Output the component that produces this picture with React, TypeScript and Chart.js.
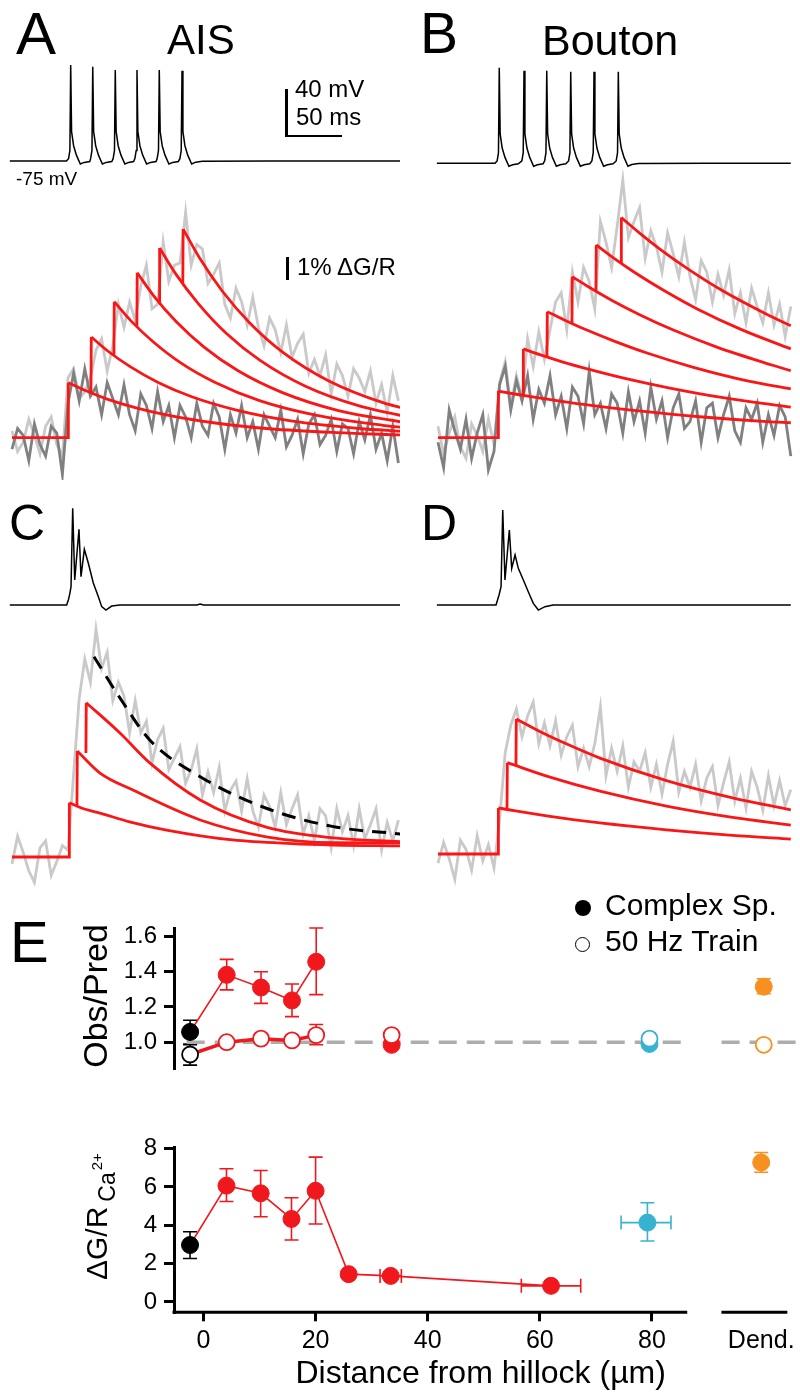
import React, { useEffect, useRef } from "react";
import { Chart, registerables } from "chart.js";

Chart.register(...registerables);

const FONT = '"Liberation Sans", Arial, Helvetica, sans-serif';
Chart.defaults.font.family = FONT;
Chart.defaults.color = "#000";

// ======================= DATA =======================
const SAMPLE_MS = 5; // sampling interval of the imaging traces (ms)

// Membrane potential traces [time ms, mV]
const VM_A = [
  [-2, -75], [48.6, -75], [50.5, -73], [51.7, -66], [52.4, 6.7], [53.2, -50], [55, -62], [57.5, -70], [61, -77.5], [64.4, -76.2], [69.4, -75.4],
  [70.2, -73], [71.4, -66], [72.1, 5.2], [72.9, -50], [74.7, -62], [77.2, -70], [80.7, -77.5], [84.1, -76.2], [89.1, -75.4],
  [90.3, -73], [91.5, -66], [92.2, 2.4], [93, -50], [94.8, -62], [97.3, -70], [100.8, -77.5], [104.2, -76.2], [108.6, -75.4],
  [109.7, -73], [110.9, -66], [111.6, 2.4], [112.4, -50], [114.2, -62], [116.7, -70], [120.2, -77.5], [123.6, -76.2], [128.6, -75.4],
  [129.6, -73], [130.8, -66], [131.5, 2.4], [132.3, -50], [134.1, -62], [136.6, -70], [140.1, -77.5], [143.5, -76.2], [148.5, -75.4],
  [149.9, -73], [151.1, -66], [151.8, 1.8], [152.6, -50], [154.4, -62], [156.9, -70], [160.4, -77.5], [164, -76], [170, -75.2], [230, -75], [347, -75],
];
const VM_B = [
  [-1, -75], [50.9, -75], [52.8, -73], [54, -66], [54.7, 6.4], [55.5, -50], [57.3, -62], [59.8, -70], [63.3, -77.5], [66.7, -76.2], [71.7, -75.4],
  [74.9, -73], [76.1, -66], [76.8, 3.8], [77.6, -50], [79.4, -62], [81.9, -70], [85.4, -77.5], [88.8, -76.2], [93.8, -75.4],
  [95.2, -73], [96.4, -66], [97.1, 3.8], [97.9, -50], [99.7, -62], [102.2, -70], [105.7, -77.5], [109.1, -76.2], [114.1, -75.4],
  [116.6, -73], [117.8, -66], [118.5, 3.0], [119.3, -50], [121.1, -62], [123.6, -70], [127.1, -77.5], [130.5, -76.2], [135.5, -75.4],
  [137.4, -73], [138.6, -66], [139.3, 3.0], [140.1, -50], [141.9, -62], [144.4, -70], [147.9, -77.5], [151.3, -76.2], [156.3, -75.4],
  [159.1, -73], [160.3, -66], [161, 3.0], [161.8, -50], [163.6, -62], [166.1, -70], [169.6, -77.5], [173, -76], [179, -75.2], [240, -75], [315, -75],
];
const VM_C = [
  [-2, -75], [48.8, -75], [50.3, -70.7], [51.5, -66], [52.7, -59.4], [54.2, 7.3], [56, -53.7], [59.8, -10.6], [61.6, -50.9], [64.6, -27.6],
  [68.1, -39.3], [72.6, -56.3], [77.1, -67.9], [80.1, -76.4], [83.9, -79.3], [89, -75.9], [96.4, -75], [165, -75], [168, -74.2], [171, -75], [347, -75],
];
const VM_D = [
  [-1, -75], [51.8, -75], [54.5, -66.5], [56.3, -59.4], [57.8, 5.9], [59.8, -53.7], [63.7, -11.2], [65.8, -43.8], [68.8, -32.4], [71.7, -43.8],
  [76.2, -53.7], [80.6, -63.7], [85.1, -73.6], [89.6, -79.3], [95.5, -76.4], [102.7, -75], [315, -75],
];

// Calcium imaging traces (%dG/R), sampled every SAMPLE_MS from t = 0
const CA_A_TRAIN = [
  0.3, -0.6, -0.2, 0.8, 0.1, -0.7, 0.5, 0.9, -0.3, -0.8,
  2.6, 3.0, 1.7, 2.0, 2.6, 3.8, 4.3, 2.9, 4.0, 5.8,
  4.8, 5.9, 5.1, 6.6, 7.5, 5.6, 5.8, 8.5, 6.8, 7.5,
  7.6, 9.8, 7.5, 8.4, 8.2, 6.7, 7.1, 7.6, 5.8, 5.2,
  6.5, 5.9, 4.9, 6.1, 4.8, 4.0, 5.2, 4.7, 3.7, 4.9,
  3.5, 4.1, 4.5, 2.8, 3.4, 2.7, 3.6, 1.9, 3.2, 2.7,
  1.8, 3.0, 2.6, 2.0, 2.9, 1.5, 2.3, 1.1, 2.7, 1.6,
];
const CA_A_SINGLE = [
  -0.5, 0.4, 0.1, -1.0, 0.6, -0.3, -0.8, 0.5, 0.2, -1.6,
  1.5, 2.8, 1.6, 3.0, 1.8, 2.2, 1.0, 2.4, 1.7, 1.0,
  2.3, 1.0, 0.3, 1.9, 1.4, 0.4, 2.0, 0.7, 1.4, 0.0,
  1.4, 0.9, 0.0, 1.5, 0.5, 0.1, 1.5, 0.9, -0.5, 1.0,
  0.2, 1.4, 0.0, 0.7, -0.5, 1.0, 0.5, 0.0, 1.2, -0.4,
  0.1, 0.8, -0.7, 0.6, 1.0, -0.3, 0.1, 0.8, -0.6, 0.6,
  0.4, -0.7, 0.7, -0.1, 1.0, -0.5, 0.2, -1.0, 0.5, -1.1,
];
const CA_B_TRAIN = [
  0.5, -0.7, 0.2, 0.9, -0.4, -0.9, 0.6, 0.1, -0.6, 0.8, -0.3,
  2.4, 3.3, 1.4, 2.7, 1.7, 4.3, 3.1, 4.6, 3.4,
  4.7, 5.9, 6.3, 4.7, 7.2, 5.9, 7.4, 6.8, 5.6, 9.4,
  8.5, 7.4, 9.2, 11.2, 8.7, 9.4, 10.0, 7.8, 9.0, 8.3,
  7.2, 8.9, 8.0, 7.0, 8.5, 7.0, 6.0, 7.7, 7.2, 5.9,
  7.1, 6.2, 7.3, 5.4, 6.3, 5.0, 6.5, 5.7, 5.0, 6.3,
  4.9, 5.8, 4.4, 5.7,
];
const CA_B_SINGLE = [
  -0.2, -1.3, 1.2, 0.3, -0.5, 0.8, -0.9, 0.2, 1.0, -1.4, -0.6,
  2.3, 3.1, 1.2, 2.5, 1.6, 2.7, 0.8, 2.1, 1.5,
  2.7, 1.0, 1.8, 0.4, 2.2, 1.8, 0.6, 2.9, 1.0, 1.5,
  0.4, 1.9, 1.5, 0.2, 2.0, 0.7, 1.6, 0.2, 2.2, 0.8,
  1.6, 0.0, 1.3, 1.9, 0.4, 0.7, 1.6, -0.2, 1.3, 1.5,
  0.0, 1.0, 1.8, 0.3, -0.2, 1.3, 0.8, 1.5, -0.2, 1.0,
  0.1, 1.4, 0.9, -0.8,
];
const CA_C_COMPLEX = [
  -0.3, 0.9, 0.2, -0.6, -1.1, 0.4, 0.7, -0.8, -0.2, 0.5,
  0.3, 3.6, 6.9, 8.6, 7.6, 9.9, 8.2, 8.9, 6.8, 7.6,
  7.0, 5.4, 6.8, 5.4, 5.9, 4.1, 5.1, 5.6, 3.8, 4.3,
  4.8, 3.2, 3.8, 4.7, 2.7, 3.7, 2.8, 3.9, 2.0, 2.9,
  3.3, 2.0, 3.4, 2.0, 1.3, 2.7, 2.2, 1.3, 2.8, 1.4,
  2.1, 2.7, 1.0, 1.8, 0.7, 2.1, 1.8, 0.4, 2.1, 1.1,
  1.8, 0.5, 2.1, 0.8, 1.4, 2.1, 0.3, 1.5, 0.7, 1.6,
];
const CA_D_COMPLEX = [
  -0.4, 0.5, -0.2, -1.1, 0.6, 0.2, -0.7, 0.8, -0.3, 0.4, -0.6,
  1.5, 4.4, 5.6, 6.3, 5.1, 6.0, 6.6, 4.8, 5.7,
  4.7, 5.8, 4.3, 5.1, 5.6, 3.8, 4.6, 3.8, 4.8, 6.4,
  3.4, 4.6, 3.6, 4.7, 2.9, 4.0, 3.6, 4.4, 2.9, 3.9,
  2.6, 3.9, 4.9, 2.7, 3.6, 2.9, 3.9, 2.3, 3.3, 3.8,
  2.1, 3.1, 4.0, 2.3, 3.3, 2.0, 3.6, 2.9, 1.9, 3.4,
  2.1, 3.2, 2.1, 2.8,
];

// Predicted (fit) curves: times (ms) and values (%dG/R); first entry = value before the step
const FIT_A_T = [
  [50, 50.3, 65, 85, 110, 140, 180, 230, 290, 347],
  [70.5, 70.8, 85.5, 105.5, 130.5, 160.5, 200.5, 250.5, 310.5, 347],
  [91, 91.3, 106, 126, 151, 181, 221, 271, 331, 347],
  [111.5, 111.8, 126.5, 146.5, 171.5, 201.5, 241.5, 291.5, 347],
  [131.5, 131.8, 146.5, 166.5, 191.5, 221.5, 261.5, 311.5, 347],
  [152.5, 152.8, 167.5, 187.5, 212.5, 242.5, 282.5, 332.5, 347],
];
const FIT_A_V = [
  [0, 2.39, 2.06, 1.68, 1.31, 0.97, 0.65, 0.39, 0.22, 0.12],
  [1.95, 4.38, 3.77, 3.09, 2.40, 1.78, 1.20, 0.72, 0.40, 0.28],
  [3.57, 5.91, 5.09, 4.17, 3.24, 2.41, 1.61, 0.98, 0.54, 0.46],
  [4.82, 7.17, 6.17, 5.05, 3.94, 2.92, 1.96, 1.18, 0.69],
  [5.84, 8.25, 7.10, 5.82, 4.53, 3.36, 2.25, 1.36, 0.97],
  [6.72, 9.07, 7.81, 6.39, 4.98, 3.69, 2.48, 1.50, 1.31],
];
const FIT_B_T = [
  [53.6, 53.9, 68.6, 88.6, 113.6, 143.6, 183.6, 233.6, 293.6, 315],
  [75.9, 76.2, 90.9, 110.9, 135.9, 165.9, 205.9, 255.9, 315],
  [97.3, 97.6, 112.3, 132.3, 157.3, 187.3, 227.3, 277.3, 315],
  [119.6, 119.9, 134.6, 154.6, 179.6, 209.6, 249.6, 299.6, 315],
  [141, 141.3, 156, 176, 201, 231, 271, 315],
  [163.4, 163.7, 178.4, 198.4, 223.4, 253.4, 293.4, 315],
];
const FIT_B_V = [
  [0, 2.03, 1.90, 1.74, 1.56, 1.36, 1.14, 0.91, 0.70, 0.65],
  [1.84, 3.86, 3.61, 3.30, 2.96, 2.59, 2.17, 1.73, 1.33],
  [3.51, 5.48, 5.13, 4.69, 4.20, 3.67, 3.07, 2.46, 2.12],
  [4.96, 7.0, 6.55, 5.99, 5.36, 4.69, 3.93, 3.14, 2.91],
  [6.36, 8.38, 7.84, 7.17, 6.42, 5.61, 4.70, 3.86],
  [7.59, 9.57, 8.96, 8.19, 7.33, 6.41, 5.37, 4.87],
];
const FIT_C_T = [
  [50.9, 51.2, 62, 78.6, 105, 138, 197, 250, 287, 347],
  [58, 58.3, 78.6, 108, 168, 227, 287, 347],
  [66, 66.3, 96.4, 123, 168, 227, 287, 347],
];
const FIT_C_V = [
  [0, 2.36, 2.13, 1.91, 1.53, 1.17, 0.74, 0.58, 0.52, 0.48],
  [2.26, 4.61, 3.65, 2.91, 1.61, 0.88, 0.62, 0.61],
  [4.52, 6.71, 5.39, 4.09, 2.48, 1.30, 0.83, 0.67],
];
const OBS_C_T = [73.2, 93.5, 123, 168, 227, 287, 347];
const OBS_C_V = [8.71, 7.13, 5.09, 3.49, 2.12, 1.32, 1.0];
const FIT_D_T = [
  [53.6, 53.9, 100, 144.6, 204, 263, 315],
  [61.6, 61.9, 100, 144.6, 204, 263, 315],
  [69.6, 69.9, 90, 115, 144.6, 204, 263, 315],
];
const FIT_D_V = [
  [0, 2.0, 1.64, 1.35, 1.05, 0.81, 0.65],
  [1.93, 3.97, 3.34, 2.73, 2.08, 1.59, 1.26],
  [3.83, 5.87, 5.35, 4.78, 4.17, 3.19, 2.44, 1.92],
];

// Panel E (x = distance from hillock, um). Rows: [x, y, yLow, yHigh, xLow, xHigh]
const E_X_TICKS = [0, 20, 40, 60, 80];
const DEND_X = 99.5;
const DEND_LABEL = "Dend.";
const E_X_RANGE = [-5.26, 104.16];
const AXIS_BREAK = [86.3, 92.4];

const OBS_TICKS = [1.0, 1.2, 1.4, 1.6];
const OBS_RANGE = [0.85, 1.648];
const UNITY = 1.0;
const UNITY_SEGMENTS = [[-3, 86], [92, 106.5]];

const OP_CS_BLACK = [[-2.4, 1.058, 0.985, 1.124]];
const OP_CS_RED = [[4.1, 1.382, 1.297, 1.47], [10.2, 1.31, 1.22, 1.40], [15.7, 1.237, 1.145, 1.33], [20.0, 1.456, 1.27, 1.648], [33.4, 0.985, 0.965, 1.0]];
const OP_CS_BLUE = [[79.2, 0.99, 0.975, 1.0]];
const OP_CS_ORANGE = [[99.5, 1.315, 1.275, 1.36]];
const OP_TR_BLACK = [[-2.4, 0.93, 0.87, 0.99]];
const OP_TR_RED = [[4.1, 1.0, 0.99, 1.01], [10.2, 1.02, 1.005, 1.035], [15.7, 1.01, 0.995, 1.025], [20.0, 1.04, 0.985, 1.10], [33.4, 1.04, 1.02, 1.06]];
const OP_TR_BLUE = [[79.2, 1.02, 1.0, 1.035]];
const OP_TR_ORANGE = [[99.5, 0.985, 0.975, 0.995]];
const LINKED_MAX_X = 20; // points of the AIS series joined by a line

const CA_TICKS = [0, 2, 4, 6, 8];
const CA_RANGE = [-0.54, 8.05];
const CA_BLACK = [[-2.4, 2.97, 2.27, 3.66]];
const CA_RED = [[4.1, 6.07, 5.24, 6.95], [10.2, 5.67, 4.45, 6.86], [15.7, 4.33, 3.23, 5.44], [20.0, 5.8, 4.07, 7.56], [25.9, 1.45, 1.35, 1.55], [33.4, 1.36, 1.28, 1.44, 31.5, 35.3], [62.0, 0.84, 0.78, 0.9, 56.7, 67.3]];
const CA_BLUE = [[79.2, 4.14, 3.18, 5.18, 74.5, 83.4]];
const CA_ORANGE = [[99.5, 7.28, 6.77, 7.8]];

// ======================= STYLE / LAYOUT =======================
const RED = "rgb(250,22,22)";
const E_RED = "rgb(240,24,28)";
const BLUE = "#37b3d2";
const ORANGE = "#f7901e";
const LIGHT = "#c9c9c9";
const DARK = "#808080";
const PX_PER_MS = 1.12;
const PX_PER_MV = 1.175;
const PX_PER_PCT = 23;

type Panel = { left: number; top: number; w: number; h: number; x0: number; base: number; pxY: number; offset: number };
const P_VA: Panel = { left: 0, top: 50, w: 400, h: 130, x0: 12, base: 111, pxY: PX_PER_MV, offset: -75 };
const P_VB: Panel = { left: 400, top: 50, w: 400, h: 130, x0: 38, base: 113.3, pxY: PX_PER_MV, offset: -75 };
const P_CA: Panel = { left: 0, top: 170, w: 400, h: 310, x0: 12, base: 267.7, pxY: PX_PER_PCT, offset: 0 };
const P_CB: Panel = { left: 400, top: 170, w: 400, h: 310, x0: 38, base: 267.7, pxY: PX_PER_PCT, offset: 0 };
const P_VC: Panel = { left: 0, top: 490, w: 400, h: 130, x0: 12, base: 115, pxY: PX_PER_MV, offset: -75 };
const P_VD: Panel = { left: 400, top: 490, w: 400, h: 130, x0: 38, base: 115, pxY: PX_PER_MV, offset: -75 };
const P_CC: Panel = { left: 0, top: 600, w: 400, h: 290, x0: 12, base: 257, pxY: PX_PER_PCT, offset: 0 };
const P_CD: Panel = { left: 400, top: 600, w: 400, h: 290, x0: 38, base: 254, pxY: PX_PER_PCT, offset: 0 };

// ======================= HELPERS =======================
const pts = (arr: number[][]) => arr.map(([x, y]) => ({ x, y }));
const sampled = (vals: number[]) => vals.map((y, i) => ({ x: i * SAMPLE_MS, y }));

function lineDS(data: any[], color: string, width: number, extra: any = {}) {
  return {
    data, showLine: true, borderColor: color, backgroundColor: color, borderWidth: width,
    pointRadius: 0, pointHoverRadius: 0, tension: 0, fill: false, ...extra,
  };
}

function fitDatasets(T: number[][], V: number[][], width = 2.8) {
  const out: any[] = [];
  T.forEach((times, k) => {
    const vals = V[k];
    out.push(lineDS(pts([[times[0], vals[0]], [times[1], vals[1]]]), RED, width, { order: 0 }));
    out.push(lineDS(times.slice(1).map((t, i) => ({ x: t, y: vals[i + 1] })), RED, width, { order: 0, cubicInterpolationMode: "monotone" }));
  });
  out.push(lineDS(pts([[0, 0], [T[0][0], 0]]), RED, width, { order: 0 }));
  return out;
}

function traceConfig(p: Panel, datasets: any[]) {
  const xmin = -p.x0 / PX_PER_MS;
  const xmax = (p.w - p.x0) / PX_PER_MS;
  const ymax = p.offset + p.base / p.pxY;
  const ymin = p.offset - (p.h - p.base) / p.pxY;
  return {
    type: "scatter",
    data: { datasets },
    options: {
      animation: false, responsive: false, devicePixelRatio: 1, events: [],
      layout: { padding: 0 },
      plugins: { legend: { display: false }, tooltip: { enabled: false } },
      scales: {
        x: { type: "linear", display: false, min: xmin, max: xmax },
        y: { type: "linear", display: false, min: ymin, max: ymax },
      },
    },
  };
}

function markerDS(rows: any[][], color: string, open: boolean, order: number) {
  return {
    data: rows.map((r) => ({ x: r[0], y: r[1] })),
    err: rows.map((r) => ({ ylo: r[2], yhi: r[3], xlo: r[4], xhi: r[5] })),
    errColor: color,
    showLine: false,
    pointRadius: open ? 8 : 8.5,
    pointHoverRadius: 0,
    pointBackgroundColor: open ? "#ffffff" : color,
    pointBorderColor: color,
    pointBorderWidth: open ? 1.8 : 1,
    order,
    clip: false,
  };
}

const errorBars = {
  id: "errorBars",
  beforeDatasetsDraw(chart: any) {
    const { ctx } = chart;
    const xs = chart.scales.x, ys = chart.scales.y;
    ctx.save();
    ctx.lineWidth = 1.6;
    for (const ds of chart.data.datasets) {
      if (!ds.err) continue;
      ctx.strokeStyle = ds.errColor;
      ds.data.forEach((p: any, i: number) => {
        const e = ds.err[i];
        const px = xs.getPixelForValue(p.x), py = ys.getPixelForValue(p.y);
        const c = 7;
        ctx.beginPath();
        if (e.ylo != null && e.yhi != null) {
          const a = ys.getPixelForValue(e.ylo), b = ys.getPixelForValue(e.yhi);
          ctx.moveTo(px, a); ctx.lineTo(px, b);
          ctx.moveTo(px - c, a); ctx.lineTo(px + c, a);
          ctx.moveTo(px - c, b); ctx.lineTo(px + c, b);
        }
        if (e.xlo != null && e.xhi != null) {
          const a = xs.getPixelForValue(e.xlo), b = xs.getPixelForValue(e.xhi);
          ctx.moveTo(a, py); ctx.lineTo(b, py);
          ctx.moveTo(a, py - c); ctx.lineTo(a, py + c);
          ctx.moveTo(b, py - c); ctx.lineTo(b, py + c);
        }
        ctx.stroke();
      });
    }
    ctx.restore();
  },
};

function yAxis(range: number[], ticks: number[], fmt: (v: number) => string) {
  return {
    type: "linear", min: range[0], max: range[1],
    afterFit: (a: any) => { a.width = 174; },
    afterBuildTicks: (a: any) => { a.ticks = ticks.map((v) => ({ value: v })); },
    border: { display: true, width: 3, color: "#000" },
    grid: { display: true, drawOnChartArea: false, drawTicks: true, tickLength: 10, tickWidth: 3, tickColor: "#000", lineWidth: 3 },
    ticks: { callback: (v: any) => fmt(Number(v)), font: { size: 24, family: FONT }, color: "#000", padding: 7 },
  };
}

function eTopConfig() {
  const linkCS = [...OP_CS_BLACK, ...OP_CS_RED.filter((r) => r[0] <= LINKED_MAX_X)];
  const linkTR = [...OP_TR_BLACK, ...OP_TR_RED.filter((r) => r[0] <= LINKED_MAX_X)];
  const datasets: any[] = [
    ...UNITY_SEGMENTS.map((s) => lineDS(pts([[s[0], UNITY], [s[1], UNITY]]), "#adadad", 3.5, { borderDash: [18, 10], order: 30, clip: false })),
    lineDS(pts(linkCS.map((r) => [r[0], r[1]])), E_RED, 1.6, { order: 20, clip: false }),
    lineDS(pts(linkTR.map((r) => [r[0], r[1]])), E_RED, 3.5, { order: 19, clip: false }),
    markerDS(OP_CS_BLACK, "#000", false, 10),
    markerDS(OP_CS_RED, E_RED, false, 10),
    markerDS(OP_CS_BLUE, BLUE, false, 10),
    markerDS(OP_CS_ORANGE, ORANGE, false, 10),
    markerDS(OP_TR_BLACK, "#000", true, 5),
    markerDS(OP_TR_RED, E_RED, true, 5),
    markerDS(OP_TR_BLUE, BLUE, true, 5),
    markerDS(OP_TR_ORANGE, ORANGE, true, 5),
  ];
  const title = {
    id: "obsTitle",
    afterDraw(chart: any) {
      const { ctx } = chart;
      ctx.save();
      ctx.translate(107, 106);
      ctx.rotate(-Math.PI / 2);
      ctx.font = `34px ${FONT}`;
      ctx.fillStyle = "#000";
      ctx.textAlign = "center";
      ctx.textBaseline = "alphabetic";
      ctx.fillText("Obs/Pred", 0, 0);
      ctx.restore();
    },
  };
  return {
    type: "scatter",
    data: { datasets },
    plugins: [errorBars, title],
    options: {
      animation: false, responsive: false, devicePixelRatio: 1, events: [],
      layout: { padding: { top: 38, bottom: 8, left: 0, right: 10 } },
      plugins: { legend: { display: false }, tooltip: { enabled: false } },
      scales: {
        x: { type: "linear", display: false, min: E_X_RANGE[0], max: E_X_RANGE[1] },
        y: yAxis(OBS_RANGE, OBS_TICKS, (v) => v.toFixed(1)),
      },
    },
  };
}

function eBottomConfig() {
  const link = [...CA_BLACK, ...CA_RED];
  const datasets: any[] = [
    lineDS(pts(link.map((r) => [r[0], r[1]])), E_RED, 1.6, { order: 20, clip: false }),
    markerDS(CA_BLACK, "#000", false, 10),
    markerDS(CA_RED, E_RED, false, 10),
    markerDS(CA_BLUE, BLUE, false, 10),
    markerDS(CA_ORANGE, ORANGE, false, 10),
  ];
  const extras = {
    id: "caExtras",
    afterDraw(chart: any) {
      const { ctx, chartArea } = chart;
      const xs = chart.scales.x;
      ctx.save();
      ctx.strokeStyle = "#000";
      ctx.lineWidth = 3;
      const y = chartArea.bottom;
      ctx.beginPath();
      ctx.moveTo(chartArea.left - 1.5, y);
      ctx.lineTo(xs.getPixelForValue(AXIS_BREAK[0]), y);
      ctx.moveTo(xs.getPixelForValue(AXIS_BREAK[1]), y);
      ctx.lineTo(chartArea.right, y);
      ctx.stroke();
      // rotated axis title with subscript / superscript
      ctx.translate(107, 160);
      ctx.rotate(-Math.PI / 2);
      ctx.fillStyle = "#000";
      ctx.textAlign = "left";
      ctx.textBaseline = "alphabetic";
      ctx.font = `30px ${FONT}`;
      ctx.fillText("\u0394G/R", 0, 0);
      const w = ctx.measureText("\u0394G/R").width;
      ctx.font = `23px ${FONT}`;
      ctx.fillText("Ca", w + 5, 8);
      const cw = ctx.measureText("Ca").width;
      ctx.font = `15px ${FONT}`;
      ctx.fillText("2+", w + 5 + cw + 2, -5);
      ctx.restore();
    },
  };
  return {
    type: "scatter",
    data: { datasets },
    plugins: [errorBars, extras],
    options: {
      animation: false, responsive: false, devicePixelRatio: 1, events: [],
      layout: { padding: { top: 27.7, bottom: 0, left: 0, right: 10 } },
      plugins: { legend: { display: false }, tooltip: { enabled: false } },
      scales: {
        x: {
          type: "linear", min: E_X_RANGE[0], max: E_X_RANGE[1],
          afterFit: (a: any) => { a.height = 84.7; },
          afterBuildTicks: (a: any) => { a.ticks = [...E_X_TICKS, DEND_X].map((v) => ({ value: v })); },
          border: { display: false },
          grid: {
            display: true, drawOnChartArea: false, drawTicks: true, tickLength: 9, tickWidth: 3, lineWidth: 3,
            tickColor: (c: any) => (c.tick && c.tick.value === DEND_X ? "rgba(0,0,0,0)" : "#000"),
          },
          ticks: {
            callback: (v: any) => (Number(v) === DEND_X ? DEND_LABEL : String(v)),
            font: { size: 25, family: FONT }, color: "#000", padding: 5, autoSkip: false, maxRotation: 0, minRotation: 0,
          },
          title: { display: true, text: "Distance from hillock (\u00b5m)", font: { size: 32, family: FONT }, color: "#000", padding: { top: 0, bottom: 4 } },
        },
        y: yAxis(CA_RANGE, CA_TICKS, (v) => String(v)),
      },
    },
  };
}

// ======================= COMPONENTS =======================
function ChartCanvas({ left, top, width, height, make }: any) {
  const ref = useRef<HTMLCanvasElement | null>(null);
  useEffect(() => {
    if (!ref.current) return;
    const chart = new Chart(ref.current, make());
    return () => chart.destroy();
  }, []);
  return <canvas ref={ref} width={width} height={height} style={{ position: "absolute", left, top, width, height }} />;
}

function TracePanel({ p, datasets }: { p: Panel; datasets: () => any[] }) {
  return <ChartCanvas left={p.left} top={p.top} width={p.w} height={p.h} make={() => traceConfig(p, datasets())} />;
}

function Text({ t, x, b, s }: { t: string; x: number; b: number; s: number }) {
  return (
    <div style={{ position: "absolute", left: x, top: b - 0.8465 * s, fontSize: s, lineHeight: `${s}px`, fontFamily: FONT, whiteSpace: "nowrap", color: "#000" }}>
      {t}
    </div>
  );
}

const Bar = ({ x, y, w, h }: any) => <div style={{ position: "absolute", left: x, top: y, width: w, height: h, background: "#000" }} />;

const LABELS = [
  { t: "A", x: 16, b: 55, s: 60 },
  { t: "AIS", x: 167, b: 55, s: 42 },
  { t: "B", x: 420, b: 53, s: 57 },
  { t: "Bouton", x: 542, b: 55, s: 43 },
  { t: "40 mV", x: 295, b: 97, s: 24 },
  { t: "50 ms", x: 296, b: 125, s: 24 },
  { t: "-75 mV", x: 16, b: 185, s: 19 },
  { t: "1% \u0394G/R", x: 297, b: 275, s: 24 },
  { t: "C", x: 9, b: 540, s: 50 },
  { t: "D", x: 421, b: 540, s: 50 },
  { t: "E", x: 10, b: 962, s: 58 },
  { t: "Complex Sp.", x: 605, b: 915, s: 30 },
  { t: "50 Hz Train", x: 605, b: 951, s: 30 },
];

export default function App() {
  return (
    <div style={{ position: "absolute", left: 0, top: 0, width: 800, height: 1397, background: "#fff", overflow: "hidden" }}>
      <TracePanel p={P_VA} datasets={() => [lineDS(pts(VM_A), "#000", 1.5)]} />
      <TracePanel p={P_VB} datasets={() => [lineDS(pts(VM_B), "#000", 1.5)]} />
      <TracePanel p={P_CA} datasets={() => [
        ...fitDatasets(FIT_A_T, FIT_A_V),
        lineDS(sampled(CA_A_SINGLE), DARK, 2.8, { order: 1 }),
        lineDS(sampled(CA_A_TRAIN), LIGHT, 2.8, { order: 2 }),
      ]} />
      <TracePanel p={P_CB} datasets={() => [
        ...fitDatasets(FIT_B_T, FIT_B_V),
        lineDS(sampled(CA_B_SINGLE), DARK, 2.8, { order: 1 }),
        lineDS(sampled(CA_B_TRAIN), LIGHT, 2.8, { order: 2 }),
      ]} />
      <TracePanel p={P_VC} datasets={() => [lineDS(pts(VM_C), "#000", 1.5)]} />
      <TracePanel p={P_VD} datasets={() => [lineDS(pts(VM_D), "#000", 1.5)]} />
      <TracePanel p={P_CC} datasets={() => [
        lineDS(OBS_C_T.map((t, i) => ({ x: t, y: OBS_C_V[i] })), "#000", 3, { order: 0, borderDash: [14, 9], cubicInterpolationMode: "monotone" }),
        ...fitDatasets(FIT_C_T, FIT_C_V),
        lineDS(sampled(CA_C_COMPLEX), LIGHT, 2.8, { order: 2 }),
      ]} />
      <TracePanel p={P_CD} datasets={() => [
        ...fitDatasets(FIT_D_T, FIT_D_V),
        lineDS(sampled(CA_D_COMPLEX), LIGHT, 2.8, { order: 2 }),
      ]} />
      <ChartCanvas left={0} top={890} width={800} height={200} make={eTopConfig} />
      <ChartCanvas left={0} top={1120} width={800} height={277} make={eBottomConfig} />

      {/* scale bars */}
      <Bar x={285} y={89} w={2.5} h={48} />
      <Bar x={285} y={134.5} w={57} h={2.5} />
      <Bar x={286} y={257} w={2.5} h={23} />

      {/* legend markers */}
      <div style={{ position: "absolute", left: 575, top: 899.5, width: 16, height: 16, borderRadius: "50%", background: "#000" }} />
      <div style={{ position: "absolute", left: 575, top: 936.5, width: 13, height: 13, borderRadius: "50%", border: "1.5px solid #000", background: "#fff" }} />

      {LABELS.map((l) => <Text key={l.t} {...l} />)}
    </div>
  );
}
